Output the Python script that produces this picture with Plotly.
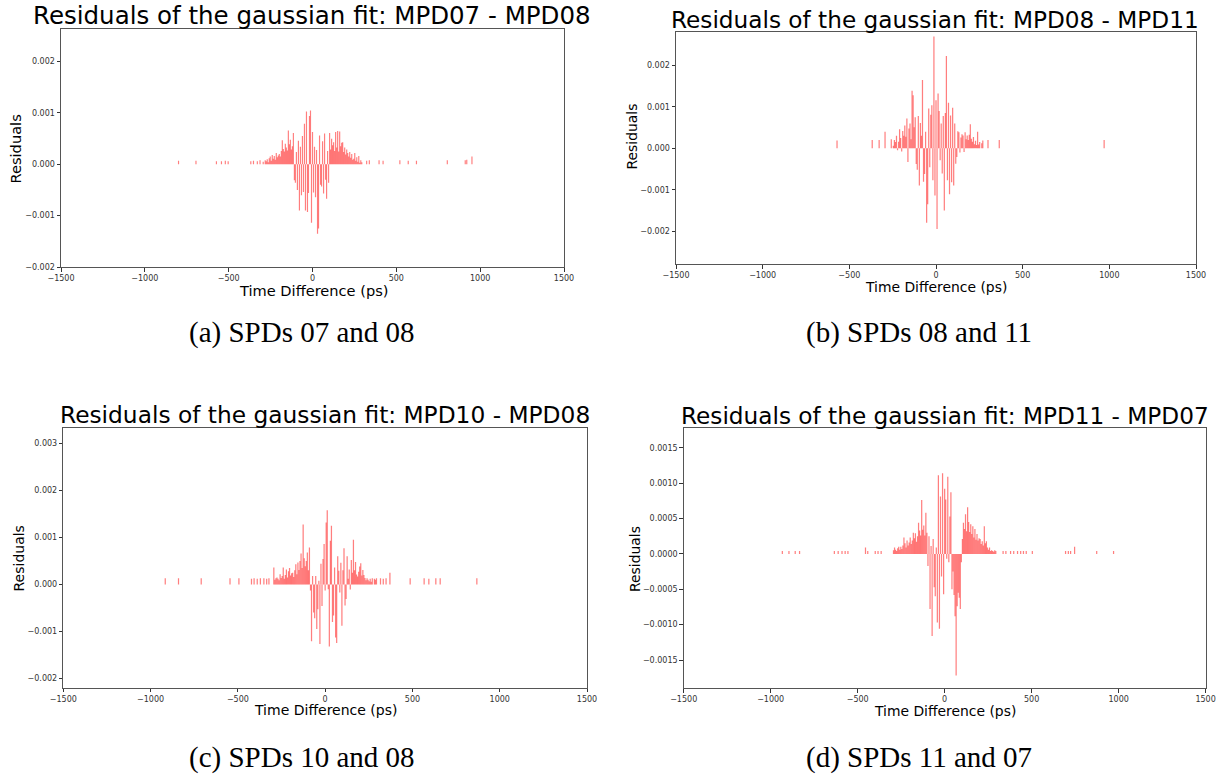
import plotly.graph_objects as go

# ---------------- data (residual values in units of 1e-4) ----------------
SCALE = 1e-4

# common histogram bin centres (ps) of the dense central region
BINS = [-294, -288, -282, -276, -270, -264, -258, -252, -246, -240,
        -234, -228, -222, -216, -210, -204, -198, -192, -186,
        -180, -174, -168, -162, -156, -150, -144, -138, -132, -126, -120,
        -114, -108, -102, -96, -90, -84, -78, -72, -66, -60,
        -54, -48, -42, -36, -30, -24, -18, -12, -6, 0,
        6, 12, 18, 24, 30, 36, 42, 48, 54, 60,
        66, 72, 78, 84, 90, 96, 102, 108, 114, 120,
        126, 132, 138, 144, 150, 156, 162, 168, 174, 180,
        186, 192, 198, 204, 210, 216, 222, 228, 234, 240,
        246, 252, 258, 264, 270, 276, 282, 288, 294]

# (a) MPD07 - MPD08
A_VALS = [0.5, 0.0, 0.8, 0.6, 1.0, 0.4, 1.2, 1.5, 0.7, 1.8,
          1.1, 1.6, 0.9, 2.2, 1.4, 1.7, 2.0, 1.5, 2.6,
          4.7, 3.0, 2.5, 4.0, 3.3, 2.7, 6.6, 3.9, 4.8, 2.9, 3.5,
          6.1, -3.1, -3.6, 2.4, -5.0, 4.6, -9.0, 3.4, -6.0, 5.5,
          -5.4, 7.9, -9.0, 10.3, -9.3, -5.6, 9.4, 10.5, -11.4, 6.3,
          -5.5, 3.4, -6.4, 2.8, -13.5, -12.5, 5.6, -4.0, -4.3, 4.5,
          -5.7, 6.0, -3.0, -6.7, 2.6, -3.6, 6.1, 2.9, 5.0, 3.7,
          4.3, 2.6, 6.3, 3.3, 6.5, 2.5, 6.4, 3.5, 4.2, 4.3,
          2.4, 3.3, 1.9, 2.9, 2.2, 1.5, 2.4, 1.3, 2.0, 0.9,
          1.1, 2.2, 0.7, 1.4, 0.5, 1.6, 0.3, 0.8, 0.4]
A_OUT_X = [-799, -695, -573, -543, -520, -503, -368, -352, -329, -313,
           323, 339, 397, 421, 521, 571, 620, 804, 911, 920, 951]
A_OUT_V = [0.7, 0.7, 0.6, 0.6, 0.7, 0.6, 0.6, 0.7, 0.6, 0.8,
           0.7, 0.8, 0.8, 0.7, 0.8, 0.7, 0.7, 0.8, 0.8, 0.9, 1.5]

# (b) MPD08 - MPD11
B_VALS = [4.0, 0.0, 0.0, 0.0, 0.0, 0.0, 2.2, 0.0, 0.6, 2.0,
          1.5, 3.0, -0.5, 1.6, 4.6, 2.5, -0.8, 4.2, 3.0,
          5.5, 2.8, 7.2, -3.3, 4.8, 6.0, 2.2, 13.9, 12.8, 5.1, 7.5,
          -3.8, -5.2, 7.8, -9.0, 6.1, 3.0, 16.5, -8.1, -6.2, 4.0,
          -18.0, -13.5, 9.6, -4.6, 8.1, 10.4, -7.7, 27.0, -11.4, 11.6,
          -19.5, 13.2, 9.0, -2.9, 6.0, -6.1, 7.8, -15.0, 8.5, 22.3,
          -7.7, 11.0, -11.1, 7.9, -8.2, 9.8, -9.0, 6.0, -3.7, -2.1,
          4.1, 3.9, -1.0, 2.6, 3.4, 3.1, -0.9, 3.9, 2.2, 3.1,
          2.0, 3.3, 5.8, 2.3, 1.6, 2.7, 1.0, 1.8, 0.8, 4.0,
          0.9, 1.5, 0.0, 1.2, 1.9, 0.0, 0.0, 0.0, 0.0]
B_OUT_X = [-571, -368, -328, 300, 365, 970]
B_OUT_V = [1.9, 2.0, 2.0, 2.0, 2.0, 2.0]

# (c) MPD10 - MPD08
C_VALS = [3.6, 1.0, 1.3, 1.5, 1.2, 0.9, 2.2, 1.4, 1.8, 3.6,
          1.2, 2.0, 3.2, 1.5, 2.8, 3.5, 1.9, 2.4, 2.5,
          1.6, 3.0, 4.3, 2.2, 4.7, 3.1, 5.0, 6.6, 3.5, 12.8, 5.6,
          3.9, 5.0, 6.8, 3.0, 7.9, -1.3, -12.1, 1.8, -6.0, -7.2,
          1.8, -9.5, -5.3, 0.8, -12.7, 4.4, -4.6, 5.4, 8.6, -1.3,
          13.2, 15.8, -1.0, -13.2, 9.3, 12.5, -8.0, -6.6, 3.6, -11.3,
          -12.5, 6.0, 2.9, -1.7, 4.6, -8.8, 3.0, 7.7, -4.5, -3.1,
          6.0, 1.2, 3.2, -1.1, 5.2, 2.5, 9.5, 3.0, 4.8, 2.1,
          1.7, 2.7, 3.8, 4.5, 1.9, 3.1, 2.0, 1.4, 0.9, 1.3,
          1.0, 0.7, 1.2, 0.6, 1.3, 0.0, 1.2, 1.0, 1.3]
C_OUT_X = [-916, -840, -710, -545, -494, -422, -407, -389, -371, -351,
           -335, -322, 317, 333, 349, 371, 487, 567, 594, 634, 659, 869]
C_OUT_V = [1.3, 1.3, 1.3, 1.3, 1.3, 1.2, 1.3, 1.2, 1.3, 1.3,
           1.2, 1.3, 1.3, 1.2, 1.3, 2.5, 1.3, 1.3, 1.2, 1.3, 1.3, 1.3]

# (d) MPD11 - MPD07
D_VALS = [0.5, 0.9, 0.6, 0.4, 0.8, 1.0, 0.6, 1.0, 0.7, 1.2,
          2.3, 1.5, 0.9, 1.9, 1.2, 1.6, 2.3, 1.4, 1.9,
          3.0, 2.2, 2.9, 1.7, 2.5, 4.4, 3.3, 2.6, 7.6, 3.4, 4.0,
          2.6, 5.8, 3.0, -1.7, 2.5, -7.8, 1.1, -11.6, 2.1, -4.7,
          -6.0, 0.9, -9.7, 11.1, -10.6, 8.1, -3.2, 11.4, -5.7, 9.2,
          7.7, -0.7, 10.9, -1.2, 5.3, 8.7, -5.0, -2.5, -5.8, -8.8,
          -17.2, -7.4, -5.5, -6.2, -7.8, -1.2, 2.1, 4.4, 3.5, 5.6,
          3.2, 6.6, 4.5, 3.1, 4.2, 2.8, 3.9, 2.3, 3.5, 2.0,
          2.8, 1.9, 2.2, 2.1, 1.4, 1.8, 1.2, 3.9, 1.5, 1.8,
          0.9, 0.6, 0.9, 0.4, 0.5, 0.4, 0.3, 0.5, 0.4]
D_OUT_X = [-933, -895, -859, -834, -634, -612, -590, -572, -556, -455,
           -442, -399, -383, -365, 336, 352, 379, 397, 419, 437,
           453, 469, 504, 695, 711, 724, 747, 874, 971]
D_OUT_V = [0.4, 0.4, 0.4, 0.4, 0.4, 0.4, 0.4, 0.4, 0.4, 0.9,
           0.4, 0.4, 0.4, 0.4, 0.4, 0.4, 0.4, 0.4, 0.4, 0.4,
           0.4, 0.4, 0.4, 0.4, 0.4, 0.4, 1.0, 0.4, 0.4]

TITLES = ["Residuals of the gaussian fit: MPD07 - MPD08",
          "Residuals of the gaussian fit: MPD08 - MPD11",
          "Residuals of the gaussian fit: MPD10 - MPD08",
          "Residuals of the gaussian fit: MPD11 - MPD07"]
CAPTIONS = ["(a) SPDs 07 and 08", "(b) SPDs 08 and 11",
            "(c) SPDs 10 and 08", "(d) SPDs 11 and 07"]

X_TICKS = [-1500, -1000, -500, 0, 500, 1000, 1500]
X_TICKTEXT = ["\u22121500", "\u22121000", "\u2212500", "0", "500", "1000", "1500"]
Y_TICKS_ABC = [-0.002, -0.001, 0.0, 0.001, 0.002, 0.003]
Y_TICKTEXT_ABC = ["\u22120.002", "\u22120.001", "0.000", "0.001", "0.002", "0.003"]
Y_TICKS_D = [-0.0015, -0.0010, -0.0005, 0.0, 0.0005, 0.0010, 0.0015]
Y_TICKTEXT_D = ["\u22120.0015", "\u22120.0010", "\u22120.0005", "0.0000",
                "0.0005", "0.0010", "0.0015"]

Y_RANGES = [[-0.002, 0.00263], [-0.0028, 0.0028], [-0.0022, 0.00334], [-0.0019, 0.001775]]

# ---------------- layout geometry (pixels) ----------------
W, H = 1224, 778
# axes boxes: left, right, top, bottom
BOXES = [(61, 564, 29.3, 267), (676, 1196, 32.3, 264.3),
         (63.3, 587, 427.7, 687.7), (683.7, 1205.6, 428.3, 688.3)]
TITLE_POS = [(312, 15.5), (935, 19.5), (325, 414.5), (944.5, 415.5)]
TITLE_SIZE = [24.5, 23.2, 23.3, 23.2]
XLAB_POS = [(313, 290.5), (936, 286.5), (325, 709.5), (945, 710.5)]
LAB_SIZE = [14.6, 13.9, 14.0, 13.9]
YLAB_POS = [(14.5, 149), (631.5, 137), (18.5, 559), (634.5, 559.5)]
CAP_POS = [(302, 333), (918.5, 333), (302, 757), (919, 757)]

panels = [(A_VALS, A_OUT_X, A_OUT_V), (B_VALS, B_OUT_X, B_OUT_V),
          (C_VALS, C_OUT_X, C_OUT_V), (D_VALS, D_OUT_X, D_OUT_V)]

fig = go.Figure()
layout = dict(width=W, height=H, margin=dict(l=0, r=0, t=0, b=0, autoexpand=False),
              paper_bgcolor="white", plot_bgcolor="white", showlegend=False,
              font=dict(family="DejaVu Sans", color="#222"))
annotations = []

for i, (vals, ox, ov) in enumerate(panels):
    n = "" if i == 0 else str(i + 1)
    xs = BINS + ox
    ys = [v * SCALE for v in vals + ov]
    fig.add_trace(go.Bar(x=xs, y=ys, width=7,
                         marker=dict(color="rgba(255,20,20,0.55)", line=dict(width=0)),
                         xaxis="x" + n, yaxis="y" + n, hoverinfo="x+y"))
    l, r, t, b = BOXES[i]
    xdom = [l / W, r / W]
    ydom = [1 - b / H, 1 - t / H]
    common = dict(showline=True, mirror=True, linecolor="#555", linewidth=1,
                  showgrid=False, zeroline=False, ticks="outside", ticklen=3.5,
                  tickwidth=0.8, tickcolor="#333", automargin=False,
                  tickfont=dict(family="DejaVu Sans", size=8, color="#333"))
    layout["xaxis" + n] = dict(domain=xdom, range=[-1500, 1500], tickvals=X_TICKS,
                               ticktext=X_TICKTEXT, anchor="y" + n, **common)
    if i == 3:
        tv, tt = Y_TICKS_D, Y_TICKTEXT_D
    else:
        tv, tt = Y_TICKS_ABC, Y_TICKTEXT_ABC
    layout["yaxis" + n] = dict(domain=ydom, range=Y_RANGES[i], tickvals=tv,
                               ticktext=tt, anchor="x" + n, **common)

    tx, ty = TITLE_POS[i]
    annotations.append(dict(text=TITLES[i], x=tx / W, y=1 - ty / H, xref="paper", yref="paper",
                            xanchor="center", yanchor="middle", showarrow=False,
                            font=dict(family="DejaVu Sans", size=TITLE_SIZE[i], color="black")))
    tx, ty = XLAB_POS[i]
    annotations.append(dict(text="Time Difference (ps)", x=tx / W, y=1 - ty / H,
                            xref="paper", yref="paper", xanchor="center", yanchor="middle",
                            showarrow=False,
                            font=dict(family="DejaVu Sans", size=LAB_SIZE[i], color="black")))
    tx, ty = YLAB_POS[i]
    annotations.append(dict(text="Residuals", x=tx / W, y=1 - ty / H, textangle=-90,
                            xref="paper", yref="paper", xanchor="center", yanchor="middle",
                            showarrow=False,
                            font=dict(family="DejaVu Sans", size=LAB_SIZE[i], color="black")))
    tx, ty = CAP_POS[i]
    annotations.append(dict(text=CAPTIONS[i], x=tx / W, y=1 - ty / H,
                            xref="paper", yref="paper", xanchor="center", yanchor="middle",
                            showarrow=False,
                            font=dict(family="Liberation Serif", size=29, color="black")))

layout["annotations"] = annotations
fig.update_layout(**layout)
fig.write_html("out.html", config={"displayModeBar": False},
               post_script="document.body.style.margin='0';"
                           "document.body.style.padding='0';"
                           "document.body.style.overflow='hidden';")
